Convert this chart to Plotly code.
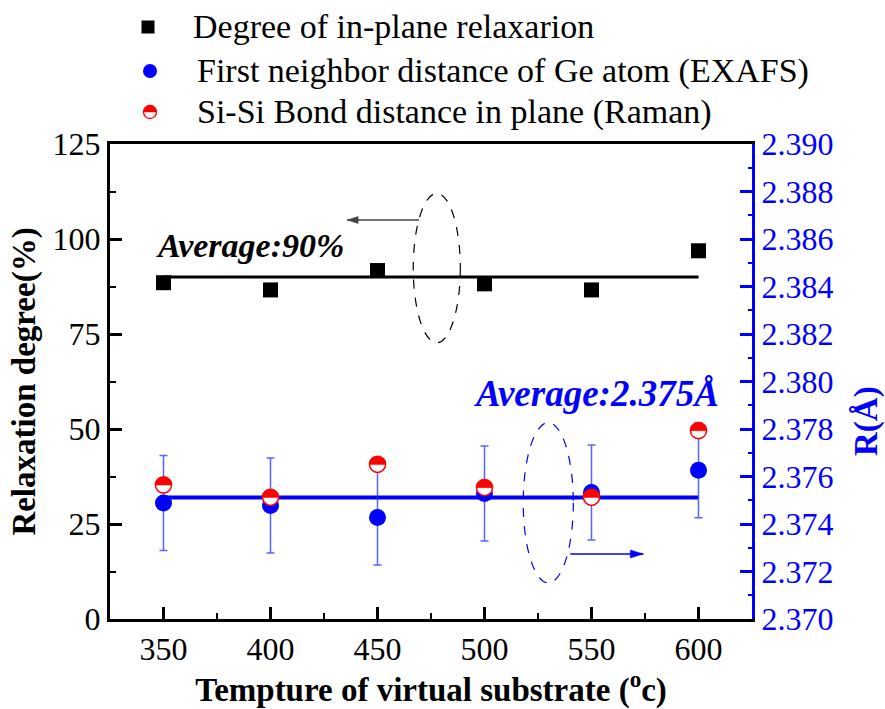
import numpy as np
import plotly.graph_objects as go

# ---------------- data ----------------
temps = [350, 400, 450, 500, 550, 600]
relax_degree = [88.5, 86.6, 91.7, 88.2, 86.6, 96.9]
relax_avg = 90.0
exafs_r = [2.37488, 2.37478, 2.37427, 2.37528, 2.37533, 2.37626]
exafs_err = [0.002, 0.002, 0.002, 0.002, 0.002, 0.002]
raman_r = [2.37564, 2.37512, 2.37651, 2.37553, 2.37512, 2.37793]
r_avg = 2.37512

x_ticks = [350, 400, 450, 500, 550, 600]
legend_labels = [
    "Degree of in-plane relaxarion",
    "First neighbor distance of Ge atom (EXAFS)",
    "Si-Si Bond distance in plane (Raman)",
]

# ---------------- style / layout ----------------
W, H = 885, 709
ML, MR, MT, MB = 110, 133, 144, 90
PW, PH = W - ML - MR, H - MT - MB
FONT = "Liberation Serif, Times New Roman, serif"
BLUE = "#0000FF"
RED = "#FF0000"


def fx(px):
    return (px - ML) / PW


def fy(py):
    return (H - MB - py) / PH


fig = go.Figure()

# black average line + squares (left axis)
fig.add_trace(go.Scatter(x=[temps[0], temps[-1]], y=[relax_avg, relax_avg],
                         mode="lines", line=dict(color="black", width=3),
                         showlegend=False, hoverinfo="skip"))
fig.add_trace(go.Scatter(x=temps, y=relax_degree, mode="markers",
                         marker=dict(symbol="square", size=15, color="black"),
                         name=legend_labels[0], showlegend=False))

# blue average line (right axis)
fig.add_trace(go.Scatter(x=[temps[0], temps[-1]], y=[r_avg, r_avg], yaxis="y2",
                         mode="lines", line=dict(color=BLUE, width=4),
                         showlegend=False, hoverinfo="skip"))
# EXAFS with error bars
fig.add_trace(go.Scatter(x=temps, y=exafs_r, yaxis="y2", mode="markers",
                         marker=dict(symbol="circle", size=17, color=BLUE),
                         error_y=dict(type="data", array=exafs_err, visible=True,
                                      color="rgba(30,50,255,0.75)", thickness=1.5, width=4),
                         name=legend_labels[1], showlegend=False))
# Raman: white circle with red outline, top half filled via shapes
fig.add_trace(go.Scatter(x=temps, y=raman_r, yaxis="y2", mode="markers",
                         marker=dict(symbol="circle", size=16, color="white",
                                     line=dict(color=RED, width=1.5)),
                         name=legend_labels[2], showlegend=False))


def half_path(r, n=24):
    ang = np.linspace(np.pi, 0, n)
    pts = [f"{r*np.cos(a):.2f},{r*np.sin(a):.2f}" for a in ang]
    return "M " + " L ".join(pts) + " Z"


shapes = []
R_HALF = 8.5
for t, v in zip(temps, raman_r):
    shapes.append(dict(type="path", xref="x", yref="y2", xsizemode="pixel",
                       ysizemode="pixel", xanchor=t, yanchor=v,
                       path=half_path(R_HALF), fillcolor=RED,
                       line=dict(color=RED, width=0.5), layer="above"))

# dashed ellipses
shapes.append(dict(type="circle", xref="x", yref="y", x0=466.7, x1=488.7, y0=72.7, y1=112.0,
                   line=dict(color="black", width=1.2, dash="dash")))
shapes.append(dict(type="circle", xref="x", yref="y2", x0=518.1, x1=541.5,
                   y0=2.37152, y1=2.37827,
                   line=dict(color=BLUE, width=1.2, dash="dash")))

# arrows (line + head) drawn as pixel-sized shapes anchored at the arrow tip
GRAY = "#444444"
shapes.append(dict(type="path", xref="x", yref="y", xsizemode="pixel", ysizemode="pixel",
                   xanchor=435.8, yanchor=105.0, path="M 0,0 L 72,0",
                   line=dict(color=GRAY, width=1.5)))
shapes.append(dict(type="path", xref="x", yref="y", xsizemode="pixel", ysizemode="pixel",
                   xanchor=435.8, yanchor=105.0, path="M 0,0 L 11,3.5 L 11,-3.5 Z",
                   fillcolor=GRAY, line=dict(color=GRAY, width=0.5)))
shapes.append(dict(type="path", xref="x", yref="y2", xsizemode="pixel", ysizemode="pixel",
                   xanchor=574.2, yanchor=2.37274, path="M 0,0 L -73,0",
                   line=dict(color=BLUE, width=1.5)))
shapes.append(dict(type="path", xref="x", yref="y2", xsizemode="pixel", ysizemode="pixel",
                   xanchor=574.2, yanchor=2.37274, path="M 0,0 L -13,4 L -13,-4 Z",
                   fillcolor=BLUE, line=dict(color=BLUE, width=0.5)))

# ---------------- manual legend ----------------
leg_rows_y = [27, 71, 112]
leg_sym_x = [148, 150, 150]
leg_text_x = [191, 195, 195]
# square
shapes.append(dict(type="rect", xref="paper", yref="paper", xsizemode="pixel", ysizemode="pixel",
                   xanchor=fx(leg_sym_x[0]), yanchor=fy(leg_rows_y[0]),
                   x0=-6.5, x1=6.5, y0=-6.5, y1=6.5, fillcolor="black", line=dict(width=0)))
# blue circle
shapes.append(dict(type="circle", xref="paper", yref="paper", xsizemode="pixel", ysizemode="pixel",
                   xanchor=fx(leg_sym_x[1]), yanchor=fy(leg_rows_y[1]),
                   x0=-7, x1=7, y0=-7, y1=7, fillcolor=BLUE, line=dict(width=0)))
# red half circle
shapes.append(dict(type="circle", xref="paper", yref="paper", xsizemode="pixel", ysizemode="pixel",
                   xanchor=fx(leg_sym_x[2]), yanchor=fy(leg_rows_y[2]),
                   x0=-6.5, x1=6.5, y0=-6.5, y1=6.5, fillcolor="white",
                   line=dict(color=RED, width=1.3)))
shapes.append(dict(type="path", xref="paper", yref="paper", xsizemode="pixel", ysizemode="pixel",
                   xanchor=fx(leg_sym_x[2]), yanchor=fy(leg_rows_y[2]),
                   path=half_path(6.5), fillcolor=RED, line=dict(color=RED, width=0.5)))

annotations = []
for lab, tx, ty in zip(legend_labels, leg_text_x, leg_rows_y):
    annotations.append(dict(text=lab, xref="paper", yref="paper", x=fx(tx), y=fy(ty),
                            xanchor="left", yanchor="middle", showarrow=False,
                            font=dict(family=FONT, size=34, color="black")))

# average labels
annotations.append(dict(text="<b><i>Average:90%</i></b>", xref="paper", yref="paper",
                        x=fx(154), y=fy(245), xanchor="left", yanchor="middle", showarrow=False,
                        font=dict(family=FONT, size=34, color="black")))
annotations.append(dict(text="<b><i>Average:2.375Å</i></b>", xref="paper", yref="paper",
                        x=fx(721), y=fy(393), xanchor="right", yanchor="middle", showarrow=False,
                        font=dict(family=FONT, size=37, color=BLUE)))

# right axis title
annotations.append(dict(text="<b>R(Å)</b>", xref="paper", yref="paper", x=fx(866), y=fy(421),
                        xanchor="center", yanchor="middle", textangle=-90, showarrow=False,
                        font=dict(family=FONT, size=33, color=BLUE)))

fig.update_layout(
    width=W, height=H,
    margin=dict(l=ML, r=MR, t=MT, b=MB, autoexpand=False),
    paper_bgcolor="white", plot_bgcolor="white",
    showlegend=False,
    font=dict(family=FONT, size=32, color="black"),
    xaxis=dict(range=[325, 625], tickvals=x_ticks, ticks="inside", ticklen=12, tickwidth=2.5,
               tickcolor="black", minor=dict(tick0=325, dtick=25, ticks="inside", ticklen=6,
                                             tickwidth=2, tickcolor="black"),
               showline=True, linecolor="black", linewidth=3, mirror=True,
               showgrid=False, zeroline=False, automargin=False,
               tickfont=dict(family=FONT, size=32, color="black"),
               title=dict(text="<b>Tempture of virtual substrate (<sup>o</sup>c)</b>",
                          font=dict(family=FONT, size=33, color="black"), standoff=4)),
    yaxis=dict(range=[0, 125], tick0=0, dtick=25, ticks="inside", ticklen=12, tickwidth=2.5,
               tickcolor="black", minor=dict(dtick=12.5, ticks="inside", ticklen=6,
                                             tickwidth=2, tickcolor="black"),
               showline=True, linecolor="black", linewidth=3,
               showgrid=False, zeroline=False, automargin=False,
               tickfont=dict(family=FONT, size=32, color="black"),
               title=dict(text="<b>Relaxation degree(%)</b>",
                          font=dict(family=FONT, size=33, color="black"), standoff=8)),
    yaxis2=dict(range=[2.370, 2.390], tick0=2.370, dtick=0.002, tickformat=".3f",
                overlaying="y", side="right", ticks="inside", ticklen=12, tickwidth=2.5,
                tickcolor=BLUE, minor=dict(dtick=0.001, ticks="inside", ticklen=4,
                                           tickwidth=2, tickcolor=BLUE),
                showline=True, linecolor=BLUE, linewidth=3,
                showgrid=False, zeroline=False, automargin=False,
                tickfont=dict(family=FONT, size=32, color=BLUE)),
    shapes=shapes,
    annotations=annotations,
)

fig.write_html("out.html")
